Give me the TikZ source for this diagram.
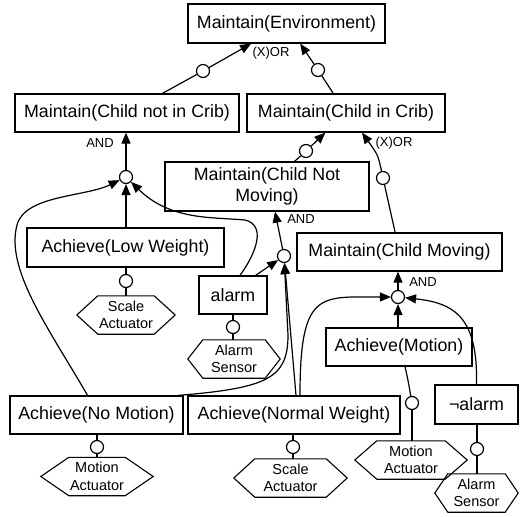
\documentclass[tikz,border=0pt]{standalone}
\usepackage{fontspec}
\setmainfont{Liberation Sans}
\usetikzlibrary{arrows.meta,calc}

\newcommand\bxfont{\fontsize{17.8}{21}\selectfont}
\newcommand\hxfont{\fontsize{14.5}{17.5}\selectfont}
\newcommand\gtfont{\fontsize{13}{15}\selectfont}

% hexagonal resource node: name, x, y, width, inset, text
\newcommand\hexnode[6]{%
  \node[hexlabel, minimum width=#4pt] (#1) at (#2,#3) {#6};
  \draw[hexline] ($(#1.north west)+(#5,0)$) -- ($(#1.north east)+(-#5,0)$) -- (#1.east)
    -- ($(#1.south east)+(-#5,0)$) -- ($(#1.south west)+(#5,0)$) -- (#1.west) -- cycle;}

\begin{document}
\begin{tikzpicture}[x=1pt,y=-1pt,
  goal/.style={draw, line width=1.3pt, rectangle, inner sep=0pt, fill=white,
    font=\bxfont, align=center},
  hexlabel/.style={inner sep=0pt, minimum height=38pt, align=center, font=\hxfont},
  hexline/.style={line width=1.1pt},
  knob/.style={circle, draw, line width=1.2pt, fill=white, minimum size=13pt, inner sep=0pt},
  link/.style={line width=1.2pt},
  arr/.style={link, -{Triangle[length=11pt,width=9pt]}},
  gate/.style={font=\gtfont, inner sep=0pt}]
\useasboundingbox (0,0) rectangle (529,516);

% goals
\node[goal, minimum width=197pt, minimum height=39pt] (env) at (286.5,23.5) {Maintain(Environment)};
\node[goal, minimum width=224pt, minimum height=38pt] (notcrib) at (127,113) {Maintain(Child not in Crib)};
\node[goal, minimum width=198pt, minimum height=38pt] (incrib) at (346,113) {Maintain(Child in Crib)};
\node[goal, minimum width=204pt, minimum height=49pt] (notmov) at (267,186.5) {Maintain(Child Not\\Moving)};
\node[goal, minimum width=205pt, minimum height=38pt] (moving) at (399.5,252) {Maintain(Child Moving)};
\node[goal, minimum width=197pt, minimum height=39pt] (lowwt) at (125.5,247.5) {Achieve(Low Weight)};
\node[goal, minimum width=68pt, minimum height=38pt] (alarm) at (233,295) {alarm};
\node[goal, minimum width=146pt, minimum height=38pt] (motion) at (399,347) {Achieve(Motion)};
\node[goal, minimum width=83pt, minimum height=39pt] (notalarm) at (476.5,404.5) {¬alarm};
\node[goal, minimum width=173pt, minimum height=38pt] (nomotion) at (96.5,415) {Achieve(No Motion)};
\node[goal, minimum width=212pt, minimum height=38pt] (normwt) at (294,415) {Achieve(Normal Weight)};

% resources
\hexnode{scaleA}{126}{315}{98}{21}{Scale\\Actuator}
\hexnode{sensA}{234}{359}{92}{15}{Alarm\\Sensor}
\hexnode{motA}{97}{476.5}{112}{28}{Motion\\Actuator}
\hexnode{scaleB}{290.5}{478}{113}{21}{Scale\\Actuator}
\hexnode{motB}{411}{460}{112}{22}{Motion\\Actuator}
\hexnode{sensB}{476.5}{493}{83}{13}{Alarm\\Sensor}

% refinement and assignment knobs
\node[knob] (k1) at (203,71) {};
\node[knob] (k2) at (318,70) {};
\node[knob] (k3) at (126,177) {};
\node[knob] (k4) at (306,151) {};
\node[knob] (k5) at (383,178) {};
\node[knob] (k6) at (284,256) {};
\node[knob] (k7) at (398,297) {};
\node[knob] (kLW) at (126,281) {};
\node[knob] (kAl) at (233,327) {};
\node[knob] (kNM) at (97,447) {};
\node[knob] (kNW) at (293,447) {};
\node[knob] (kMo) at (412,403) {};
\node[knob] (kNA) at (477,449) {};

% operator labels
\node[gate] (xor1) at (271,53) {(X)OR};
\node[gate] (and1) at (100,143) {AND};
\node[gate] (xor2) at (394,143) {(X)OR};
\node[gate] (and2) at (301,219) {AND};
\node[gate] (and3) at (423,282) {AND};

% environment refinement
\draw[link] (notcrib) -- (k1);
\draw[arr] (k1) -- (env);
\draw[link] (incrib) -- (k2);
\draw[arr] (k2) -- (env);

% child not in crib
\draw[arr] (k3) -- (k3 |- notcrib.south);
\draw[arr] (lowwt.north -| k3) -- (k3);
\draw[arr] ($(nomotion.north)+(-9,0)$) .. controls (50,330) and (5,270) .. (17,225)
  .. controls (25,195) and (85,197) .. (k3);
\draw[arr] ($(alarm.north)+(7,0)$) .. controls (257,252) and (266,225) .. (245,220)
  .. controls (210,217) and (170,220) .. (k3);

% child in crib
\draw[link] (notmov) -- (k4);
\draw[arr] (k4) -- (incrib);
\draw[link] (moving) -- (k5);
\draw[arr] (k5) .. controls (378,155) .. ($(incrib.south)+(16,0)$);

% child not moving
\draw[arr] (k6) -- ($(notmov.south)+(8,0)$);
\draw[arr] ($(alarm.north east)+(-12,0)$) -- (k6);
\draw[arr] ($(normwt.north)+(2,0)$) -- (k6);
\draw[arr] ($(nomotion.north east)+(-5,0)$) .. controls (268,388) and (288,378) .. (288,335) -- (k6);

% child moving
\draw[arr] (k7) -- (k7 |- moving.south);
\draw[arr] (motion.north -| k7) -- (k7);
\draw[arr] ($(normwt.north)+(6,0)$) .. controls (300,290) and (320,297) .. (k7);
\draw[arr] (notalarm.north) .. controls (478,318) and (455,303) .. (k7);

% resource assignments
\draw[link] (kLW) -- (kLW |- lowwt.south);
\draw[link] (kLW) -- (kLW |- scaleA.north);
\draw[link] (kAl) -- (kAl |- alarm.south);
\draw[link] (kAl) -- (kAl |- sensA.north);
\draw[link] (kNM) -- (kNM |- nomotion.south);
\draw[link] (kNM) -- (kNM |- motA.north);
\draw[link] (kNW) -- (kNW |- normwt.south);
\draw[link] (kNW) -- (kNW |- scaleB.north);
\draw[link] ($(motion.south)+(6,0)$) .. controls (408,380) .. (kMo);
\draw[link] (kMo) -- (kMo |- motB.north);
\draw[link] (kNA) -- (kNA |- notalarm.south);
\draw[link] (kNA) -- (kNA |- sensB.north);
\end{tikzpicture}
\end{document}
